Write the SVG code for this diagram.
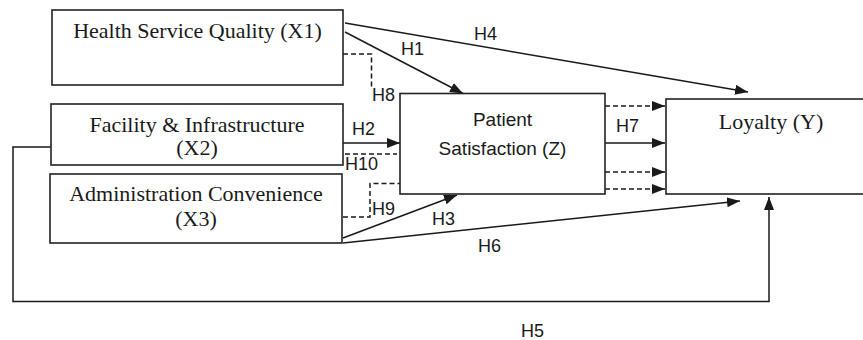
<svg xmlns="http://www.w3.org/2000/svg" width="863" height="340" viewBox="0 0 863 340">
<style>
.box{fill:#fff;stroke:#222;stroke-width:1.6}
.serif{font-family:"Liberation Serif","Times New Roman",serif;font-size:22px;fill:#1a1a1a;text-anchor:middle}
.sans{font-family:"Liberation Sans",Arial,sans-serif;fill:#1a1a1a}
.lbl{font-size:18px}
.ln{fill:none;stroke:#1a1a1a;stroke-width:1.5}
.dash{stroke-dasharray:5,3}
</style>
<defs>
<marker id="arr" markerUnits="userSpaceOnUse" markerWidth="14" markerHeight="11" refX="13" refY="5" orient="auto">
<path d="M0,0 L13,5 L0,10 z" fill="#1a1a1a"/>
</marker>
</defs>
<rect width="863" height="340" fill="#fff"/>
<g id="connectors">
<path class="ln" d="M345,23 L748,92" marker-end="url(#arr)"/>
<path class="ln" d="M345,32 L463,93.5" marker-end="url(#arr)"/>
<path class="ln dash" d="M343,54 H371.5 V88"/>
<path class="ln" d="M343,143 H400" marker-end="url(#arr)"/>
<path class="ln dash" d="M345,154 H397"/>
<path class="ln dash" d="M343,217 H370 V183.5 H400"/>
<path class="ln" d="M343,238 L457,195" marker-end="url(#arr)"/>
<path class="ln" d="M343,243 L740,201" marker-end="url(#arr)"/>
<path class="ln" d="M51,147 H13 V301.5 H769 V197" marker-end="url(#arr)"/>
<path class="ln dash" d="M605,106 H665" marker-end="url(#arr)"/>
<path class="ln" d="M605,143 H665" marker-end="url(#arr)"/>
<path class="ln dash" d="M605,172 H665" marker-end="url(#arr)"/>
<path class="ln dash" d="M605,189 H665" marker-end="url(#arr)"/>
<g class="sans lbl">
<text x="474" y="40">H4</text>
<text x="401" y="55">H1</text>
<text x="372" y="101">H8</text>
<text x="352" y="135">H2</text>
<text x="345" y="170">H10</text>
<text x="372" y="215">H9</text>
<text x="432" y="225">H3</text>
<text x="478" y="252">H6</text>
<text x="521" y="337">H5</text>
<text x="616" y="132">H7</text>
</g>
</g>
<g id="X1">
<rect class="box" x="52" y="10" width="291" height="75"/>
<text class="serif" x="197.5" y="38">Health Service Quality (X1)</text>
</g>
<g id="X2">
<rect class="box" x="51" y="104" width="292" height="61"/>
<text class="serif" x="197" y="132">Facility &amp; Infrastructure</text>
<text class="serif" x="197" y="155">(X2)</text>
</g>
<g id="X3">
<rect class="box" x="50" y="174" width="292" height="69"/>
<text class="serif" x="196" y="201">Administration Convenience</text>
<text class="serif" x="196" y="226">(X3)</text>
</g>
<g id="Z">
<rect class="box" x="400" y="93.5" width="205" height="100.5"/>
<text class="sans" x="502.5" y="126" font-size="19" text-anchor="middle">Patient</text>
<text class="sans" x="502.5" y="155" font-size="19" text-anchor="middle">Satisfaction (Z)</text>
</g>
<g id="Y">
<rect class="box" x="666" y="99" width="210" height="95"/>
<text class="serif" x="771" y="129">Loyalty (Y)</text>
</g>
</svg>
